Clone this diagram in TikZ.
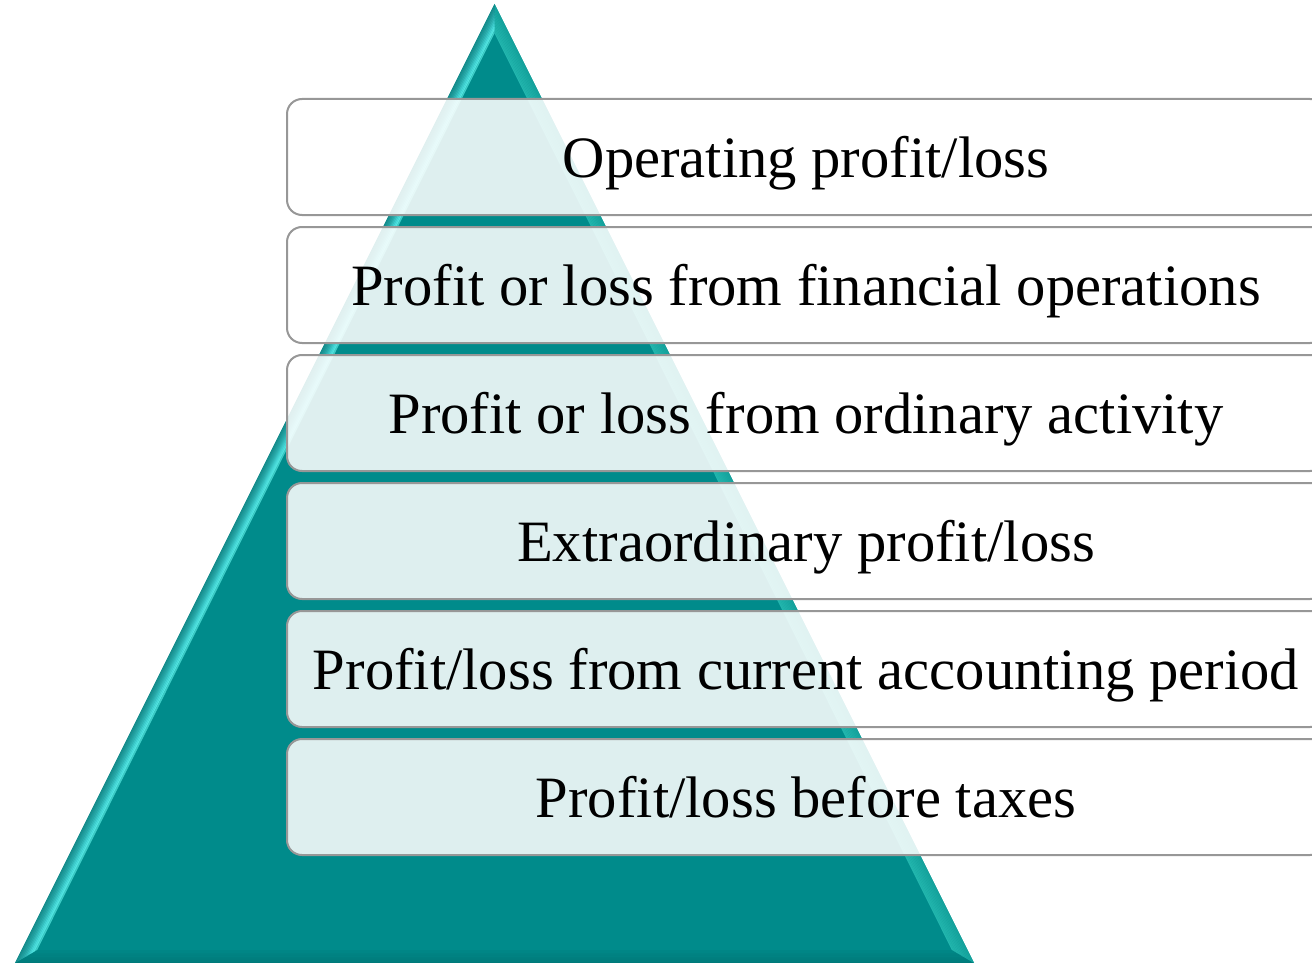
\documentclass[tikz,border=0pt]{standalone}
\usepackage{fontspec}
\setmainfont{Liberation Serif}
\usetikzlibrary{calc}
\definecolor{tealface}{HTML}{008B8B}
\definecolor{lbA}{HTML}{168C8C}
\definecolor{lbB}{HTML}{52E4E0}
\definecolor{rbA}{HTML}{15A39D}
\definecolor{rbB}{HTML}{22B5AD}
\definecolor{bbA}{HTML}{007A7A}
\definecolor{bbB}{HTML}{008686}
\definecolor{boxline}{HTML}{979797}
\begin{document}
\begin{tikzpicture}[x=1pt,y=-1pt,
  stepbox/.style={draw=boxline, line width=2pt, rounded corners=15pt, fill=white, fill opacity=0.87,
    minimum width=1038pt, minimum height=116pt, inner sep=0pt, outer sep=0pt, anchor=north west},
  lbl/.style={font=\fontsize{58.6}{70}\selectfont, anchor=base, inner sep=0pt, text=black}]
\useasboundingbox (0,0) rectangle (1312,963);
\clip (0,0) rectangle (1312,963);
% pyramid
\coordinate (Oa) at (494.5,4);
\coordinate (Ol) at (15,963);
\coordinate (Or) at (974,963);
\coordinate (Ia) at (494.5,33);
\coordinate (Il) at (37,950);
\coordinate (Ir) at (952,950);
\fill[tealface] (Oa) -- (Ol) -- (Or) -- cycle;
% bottom bevel
\foreach \i in {0,...,9}{
  \pgfmathsetmacro{\ta}{\i/10}
  \pgfmathsetmacro{\tb}{(\i+1)/10}
  \pgfmathtruncatemacro{\p}{\i*11}
  \fill[bbB!\p!bbA] ($(Ol)!\ta!(Il)$) -- ($(Or)!\ta!(Ir)$) -- ($(Or)!\tb!(Ir)$) -- ($(Ol)!\tb!(Il)$) -- cycle;
}
% right bevel
\foreach \i in {0,...,9}{
  \pgfmathsetmacro{\ta}{\i/10}
  \pgfmathsetmacro{\tb}{(\i+1)/10+0.01}
  \pgfmathtruncatemacro{\p}{\i*11}
  \fill[rbB!\p!rbA] ($(Oa)!\ta!(Ia)$) -- ($(Or)!\ta!(Ir)$) -- ($(Or)!\tb!(Ir)$) -- ($(Oa)!\tb!(Ia)$) -- cycle;
}
% left bevel
\foreach \i/\c in {0/168C8C,1/1B9494,2/209C9C,3/26A5A5,4/2DB0B0,5/35BEBE,6/3FCDCD,7/49DADA,8/52E4E0,9/3CCBC6}{
  \pgfmathsetmacro{\ta}{\i/10}
  \pgfmathsetmacro{\tb}{(\i+1)/10+0.01}
  \definecolor{cur}{HTML}{\c}
  \fill[cur] ($(Oa)!\ta!(Ia)$) -- ($(Ol)!\ta!(Il)$) -- ($(Ol)!\tb!(Il)$) -- ($(Oa)!\tb!(Ia)$) -- cycle;
}
% boxes
\node[stepbox] (b1) at (287,99) {};
\node[stepbox] (b2) at (287,227) {};
\node[stepbox] (b3) at (287,355) {};
\node[stepbox] (b4) at (287,483) {};
\node[stepbox] (b5) at (287,611) {};
\node[stepbox] (b6) at (287,739) {};
% labels
\node[lbl] (t1) at ($(b1.center)+(0,20)$) {Operating profit/loss};
\node[lbl] (t2) at ($(b2.center)+(0,20)$) {Profit or loss from financial operations};
\node[lbl] (t3) at ($(b3.center)+(0,20)$) {Profit or loss from ordinary activity};
\node[lbl] (t4) at ($(b4.center)+(0,20)$) {Extraordinary profit/loss};
\node[lbl] (t5) at ($(b5.center)+(0,20)$) {Profit/loss from current accounting period};
\node[lbl] (t6) at ($(b6.center)+(0,20)$) {Profit/loss before taxes};
\end{tikzpicture}
\end{document}
